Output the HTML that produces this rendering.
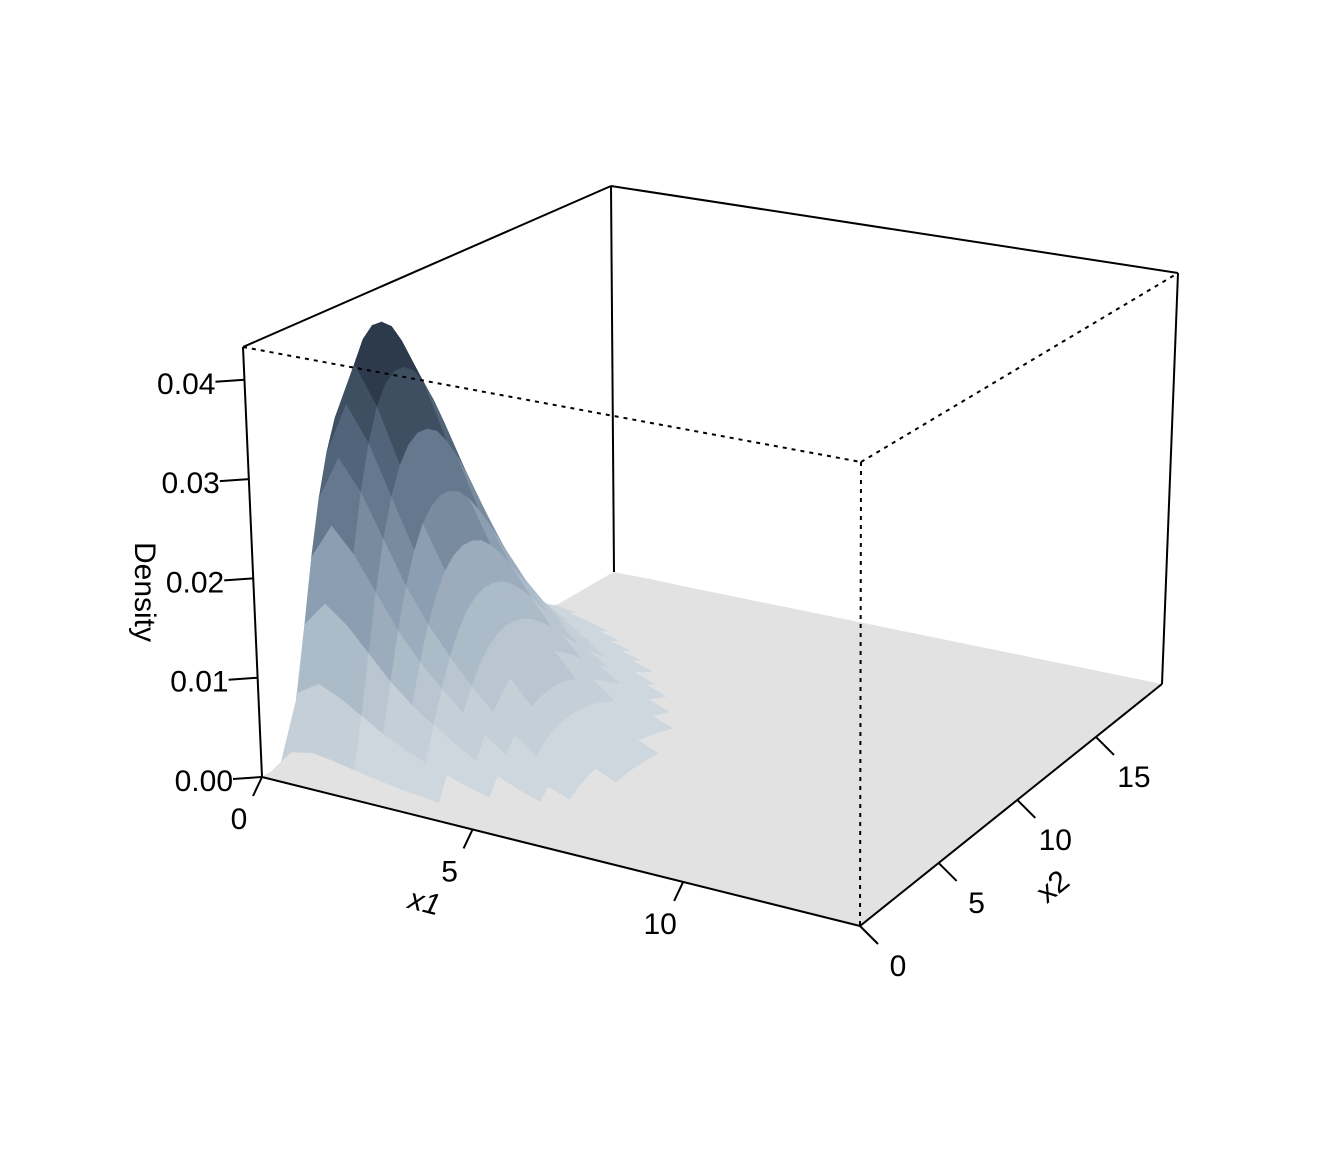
<!DOCTYPE html>
<html><head><meta charset="utf-8"><style>
html,body{margin:0;padding:0;background:#fff;}
svg{display:block;font-family:"Liberation Sans",sans-serif;}
</style></head><body>
<svg id="chart" width="1344" height="1152" viewBox="0 0 1344 1152" xmlns="http://www.w3.org/2000/svg">
<rect width="1344" height="1152" fill="#fff"/>
<g id="floor"></g>
<g id="box"></g>
<g id="axes"></g>
</svg>
<script>
// ---- data ----
const x1Max = 14.2;
const x2Max = 19.2;
const zMax = 0.0433;
const gridStep = 0.5;
const peakDensity = 0.0425;
// relative marginal profile along x1 (grid step 0.5)
const x1Profile = [0,0.85,1.0,0.90,0.76,0.62,0.51,0.42,0.34,0.27,0.21,0.16,0.12,0.09,0.068,0.05,0.037,0.027,0.02,0.015,0.011,0.008,0.006,0.0045,0.0033,0.0024,0.0018,0.0013,0.001];
// relative marginal profile along x2 (grid step 0.5)
const x2Profile = [0,0.068,0.219,0.397,0.571,0.722,0.839,0.925,0.975,0.998,0.996,0.975,0.93,0.87,0.80,0.72,0.64,0.56,0.49,0.42,0.36,0.30,0.25,0.21,0.17,0.14,0.115,0.094,0.076,0.061,0.049,0.039,0.031,0.025,0.020,0.016,0.012,0.010,0.008];
const zTicks = [0,0.01,0.02,0.03,0.04];
const zTickLabels = ["0.00","0.01","0.02","0.03","0.04"];
const x1Ticks = [0,5,10];
const x2Ticks = [0,5,10,15];

// ---- projection (box corners) ----
const C = {
  '000':[262,777],'100':[860,926],'110':[1162,684],'010':[614,572],
  '001':[243,347],'101':[861,462],'111':[1178,273],'011':[611,186]
};
function lerp(p,q,t){return [p[0]+(q[0]-p[0])*t,p[1]+(q[1]-p[1])*t];}
function proj(x1,x2,z){
  const a=x1/x1Max,b=x2/x2Max,c=z/zMax;
  const b0=lerp(lerp(C['000'],C['100'],a),lerp(C['010'],C['110'],a),b);
  const b1=lerp(lerp(C['001'],C['101'],a),lerp(C['011'],C['111'],a),b);
  return lerp(b0,b1,c);
}
const NS='http://www.w3.org/2000/svg';
function mk(tag,attrs,parent){const e=document.createElementNS(NS,tag);for(const k in attrs)e.setAttribute(k,attrs[k]);parent.appendChild(e);return e;}
function zAt(i,j){const a=x1Profile[i]||0,b=x2Profile[j]||0;return peakDensity*a*b;}

// colour bands
const nBands=12;
const ramp=[[226,226,226],[206,215,222],[180,194,206],[140,158,177],[92,110,132],[44,58,76]];
function bandColor(z){
  let k=Math.floor(z/(zMax/nBands)); if(k<0)k=0; if(k>nBands-1)k=nBands-1;
  if(k===0) return 'rgb(226,226,226)';
  const t=(k-1)/(nBands-2)*(ramp.length-2)+1;
  const i=Math.min(Math.floor(t),ramp.length-2), f=t-i;
  const c=ramp[i].map((v,n)=>Math.round(v+(ramp[i+1][n]-v)*f));
  return 'rgb('+c.join(',')+')';
}

// ---- surface ----
const surf=document.getElementById('floor');
const n1=x1Profile.length, n2=x2Profile.length;
const cells=[];
for(let i=0;i<n1-1;i++)for(let j=0;j<n2-1;j++){
  const xa=i*gridStep,xb=Math.min((i+1)*gridStep,x1Max),ya=j*gridStep,yb=Math.min((j+1)*gridStep,x2Max);
  const z00=zAt(i,j),z10=zAt(i+1,j),z11=zAt(i+1,j+1),z01=zAt(i,j+1);
  cells.push({depth:(j/n2)+(1-i/n1),pts:[proj(xa,ya,z00),proj(xb,ya,z10),proj(xb,yb,z11),proj(xa,yb,z01)],z:Math.max(z00,z10,z11,z01)});
}
cells.sort((p,q)=>q.depth-p.depth);
const fl=mk('polygon',{points:[proj(0,0,0),proj(x1Max,0,0),proj(x1Max,x2Max,0),proj(0,x2Max,0)].map(p=>p.join(',')).join(' '),fill:'rgb(226,226,226)'},surf);


cells.forEach(c=>{
  const col=bandColor(c.z);
  const p=mk('polygon',{points:c.pts.map(p=>p[0].toFixed(1)+','+p[1].toFixed(1)).join(' '),fill:col,stroke:col,'stroke-width':0.6},surf);
  
  
});

// ---- box ----
const box=document.getElementById('box');
function line(p,q,dash,name){
  const l=mk('line',{x1:p[0],y1:p[1],x2:q[0],y2:q[1],stroke:'#000','stroke-width':2},box);
  if(dash){l.setAttribute('stroke-dasharray','4,5');}
  
  
}
line(C['000'],C['001'],false,'z-axis-line');
line(C['001'],C['011'],false,'box-edge');
line(C['011'],C['111'],false,'box-edge');
line(C['111'],C['110'],false,'box-edge');
line(C['110'],C['100'],false,'x2-axis-line');
line(C['100'],C['000'],false,'x1-axis-line');
line(C['011'],C['010'],false,'box-edge');
line(C['001'],C['101'],true,'box-edge-hidden');
line(C['101'],C['111'],true,'box-edge-hidden');
line(C['101'],C['100'],true,'box-edge-hidden');

// ---- axes ----
const ax=document.getElementById('axes');
function text(x,y,s,name,extra){
  const t=mk('text',Object.assign({x:x,y:y,'font-size':30,fill:'#000'},extra||{}),ax);
  t.textContent=s;
  
  
  return t;
}
zTicks.forEach((v,k)=>{
  const p=proj(0,0,v);
  const l=mk('line',{x1:p[0],y1:p[1],x2:p[0]-29,y2:p[1]+2,stroke:'#000','stroke-width':2},ax);
  
  
  text(p[0]-29,p[1]+14,zTickLabels[k],'z-tick-label',{'text-anchor':'end'});
});
x1Ticks.forEach(v=>{
  const p=proj(v,0,0);
  const l=mk('line',{x1:p[0],y1:p[1],x2:p[0]-9,y2:p[1]+19,stroke:'#000','stroke-width':2},ax);
  
  
  text(p[0]-23,p[1]+52,String(v),'x1-tick-label',{'text-anchor':'middle'});
});
x2Ticks.forEach(v=>{
  const p=proj(x1Max,v,0);
  const l=mk('line',{x1:p[0],y1:p[1],x2:p[0]+18,y2:p[1]+18,stroke:'#000','stroke-width':2},ax);
  
  
  text(p[0]+38,p[1]+50,String(v),'x2-tick-label',{'text-anchor':'middle'});
});
text(424,912,'x1','x1-axis-title',{'text-anchor':'middle','font-style':'italic','transform':'rotate(14 424 904)'});
text(1054,896,'x2','x2-axis-title',{'text-anchor':'middle','transform':'rotate(-39 1054 888)'});
text(135,592,'Density','z-axis-title',{'text-anchor':'middle','transform':'rotate(90 135 592)'});
</script>
</body></html>
